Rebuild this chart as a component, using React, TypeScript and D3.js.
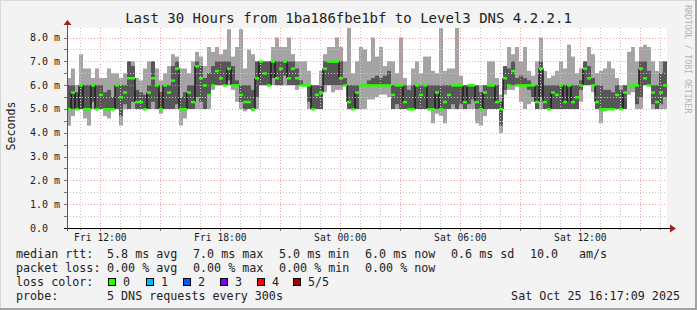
import React from 'react';
import * as d3 from 'd3';

const W = 697;
const H = 310;

const startTime = new Date('2025-10-24T10:20:00Z');
const endTime = new Date('2025-10-25T16:20:00Z');
const stepMinutes = 12;

// sorted ping values per 12-minute column (ms)
const minMs = [
  4.3, 4.7, 5.0, 5.0, 4.6, 4.3, 5.0, 5.0, 5.0, 4.7, 4.6, 5.0, 5.0, 4.3, 5.0, 5.0, 5.0, 5.0, 5.0, 5.0,
  5.0, 5.0, 5.0, 4.8, 5.0, 5.0, 5.0, 5.0, 4.3, 4.6, 5.0, 5.0, 5.0, 5.0, 5.0, 5.0, 5.8, 6.0, 6.0, 6.0,
  6.0, 5.8, 5.3, 5.0, 4.9, 5.0, 4.9, 5.0, 6.0, 6.0,
  6.0, 6.0, 6.0, 6.0, 6.0, 6.0, 6.0, 5.8, 6.0, 6.0, 5.0, 5.0, 5.0, 5.0, 5.7, 6.0, 5.7, 5.8, 5.8, 6.0,
  5.0, 5.0, 5.0, 5.0, 5.0, 5.4, 5.4, 5.5, 5.6, 5.6, 5.5, 5.0, 5.0, 5.0, 5.0, 5.0, 5.0, 5.0, 5.0, 5.0,
  5.0, 4.4, 4.8, 4.7, 4.4, 5.0, 5.0, 5.0, 5.0, 5.0,
  5.0, 5.0, 4.4, 4.3, 4.7, 5.0, 5.0, 5.0, 4.0, 5.6, 5.8, 5.8, 6.0, 5.3, 5.0, 5.2, 5.3, 5.0, 5.0, 5.0,
  5.0, 5.0, 5.0, 5.0, 5.0, 5.0, 5.0, 5.0, 5.3, 6.0, 6.0, 5.7, 5.0, 4.4, 4.9, 5.0, 5.0, 5.0, 5.0, 5.0,
  5.6, 5.7, 5.0, 5.0, 6.0, 6.0, 5.0, 5.0, 5.0, 5.0,
];
const lowMs = [
  5.0, 5.0, 5.0, 5.0, 5.0, 5.0, 5.3, 5.0, 5.0, 5.0, 5.0, 5.0, 5.0, 4.7, 5.2, 5.0, 5.3, 5.0, 5.0, 5.0,
  5.0, 5.3, 5.0, 5.0, 5.0, 5.0, 5.0, 5.2, 5.0, 5.0, 5.0, 5.0, 5.5, 5.3, 5.0, 5.6, 6.0, 6.0, 6.0, 6.0,
  6.2, 6.0, 6.0, 5.3, 5.0, 5.0, 5.0, 5.5, 6.0, 6.0,
  6.0, 6.3, 6.0, 6.0, 6.4, 6.0, 6.0, 6.0, 6.0, 6.0, 5.3, 5.0, 5.0, 5.0, 6.0, 6.0, 6.0, 6.0, 6.0, 6.0,
  5.0, 5.0, 5.0, 6.0, 6.0, 6.0, 6.0, 6.0, 6.0, 6.0, 6.0, 5.0, 5.2, 5.0, 5.0, 5.0, 5.0, 5.0, 5.0, 5.0,
  5.0, 5.0, 5.0, 5.0, 5.0, 5.0, 5.2, 5.0, 5.2, 5.0,
  5.2, 5.4, 5.0, 5.0, 5.0, 5.0, 5.0, 5.0, 4.3, 5.8, 6.0, 6.0, 6.0, 6.0, 6.0, 5.8, 5.5, 5.0, 5.5, 5.0,
  5.0, 5.0, 5.0, 5.0, 5.0, 5.0, 5.0, 5.0, 5.8, 6.0, 6.0, 6.0, 5.0, 5.0, 5.0, 5.0, 5.0, 5.0, 5.0, 5.0,
  6.0, 6.0, 5.2, 5.5, 6.0, 6.0, 5.2, 5.0, 5.2, 5.5,
];
const medianMs = [
  5.0, 5.7, 5.0, 6.0, 5.0, 5.0, 6.0, 5.0, 5.6, 5.0, 5.0, 5.0, 6.0, 5.5, 5.7, 6.3, 6.3, 5.3, 5.3, 5.0,
  5.7, 6.3, 6.0, 5.0, 6.0, 5.7, 6.2, 6.7, 5.0, 5.0, 5.7, 5.3, 6.8, 6.3, 6.0, 5.6, 6.0, 6.6, 6.3, 6.0,
  6.7, 6.0, 6.0, 5.6, 5.3, 5.3, 5.0, 6.3, 7.0, 6.5,
  6.0, 7.0, 6.3, 6.7, 7.0, 6.3, 6.7, 6.3, 6.0, 6.0, 6.0, 5.0, 5.6, 5.7, 6.7, 7.0, 7.0, 7.0, 6.3, 6.0,
  5.3, 5.0, 5.7, 6.0, 6.0, 6.0, 6.0, 6.0, 6.0, 6.0, 6.0, 5.6, 6.0, 6.0, 5.3, 5.0, 5.0, 6.0, 5.6, 6.0,
  5.0, 5.0, 5.7, 5.0, 5.3, 5.6, 6.0, 6.0, 6.0, 5.3,
  6.0, 6.0, 5.3, 5.0, 5.7, 6.0, 6.0, 5.3, 5.0, 6.3, 6.0, 6.6, 6.0, 6.0, 6.0, 6.0, 6.0, 5.3, 6.7, 5.3,
  5.0, 5.7, 5.6, 6.0, 5.3, 6.0, 5.3, 5.5, 6.0, 6.7, 6.3, 6.0, 5.3, 5.0, 5.0, 5.0, 5.0, 5.6, 5.0, 5.7,
  6.0, 6.0, 6.0, 6.7, 6.3, 6.0, 5.7, 5.3, 5.7, 6.0,
];
const highMs = [
  6.0, 6.0, 5.7, 6.0, 6.0, 6.0, 6.0, 6.0, 6.0, 5.7, 5.8, 5.5, 6.0, 6.0, 6.0, 7.0, 6.8, 5.8, 5.7, 5.6,
  6.0, 7.0, 6.0, 5.7, 6.0, 6.0, 6.8, 7.0, 5.5, 5.7, 6.0, 6.0, 7.0, 6.8, 6.3, 6.5, 6.8, 7.0, 7.0, 7.0,
  7.0, 6.8, 6.2, 6.0, 6.0, 6.0, 5.8, 7.0, 7.0, 7.0,
  7.0, 7.0, 7.0, 7.0, 7.0, 7.0, 7.0, 6.7, 6.2, 6.0, 6.0, 6.0, 6.0, 6.0, 7.0, 7.0, 7.0, 7.0, 7.0, 6.3,
  6.0, 6.0, 6.0, 6.0, 6.0, 6.2, 6.3, 6.4, 6.3, 6.4, 6.6, 6.0, 6.0, 6.0, 6.0, 5.8, 6.0, 6.0, 6.0, 6.0,
  6.0, 6.0, 6.0, 6.0, 6.0, 6.0, 6.0, 6.0, 6.0, 6.0,
  6.0, 6.0, 6.0, 5.7, 6.0, 6.0, 6.0, 6.0, 5.3, 6.8, 6.7, 7.0, 6.3, 6.4, 6.3, 6.2, 6.0, 6.0, 7.0, 6.0,
  6.0, 6.0, 6.0, 6.0, 6.0, 6.0, 6.0, 6.0, 6.2, 7.0, 6.8, 6.3, 6.0, 6.0, 5.8, 5.8, 5.7, 6.0, 5.8, 6.0,
  6.0, 6.0, 6.0, 7.0, 7.0, 6.6, 6.0, 6.0, 6.5, 7.0,
];
const maxMs = [
  6.3, 6.7, 6.0, 7.3, 6.7, 6.7, 6.3, 6.7, 6.3, 6.3, 6.7, 6.5, 6.5, 6.3, 6.5, 7.0, 7.0, 6.3, 6.2, 6.7,
  7.0, 7.0, 6.7, 6.2, 6.5, 6.8, 7.3, 7.2, 6.7, 6.7, 6.5, 7.0, 7.4, 7.2, 6.8, 7.6, 7.4, 7.6, 7.3, 7.5,
  8.35, 7.2, 7.6, 8.35, 6.7, 7.5, 7.3, 7.0, 7.0, 7.0,
  7.0, 7.6, 8.0, 7.6, 7.6, 8.0, 7.3, 7.0, 7.0, 7.0, 6.6, 6.0, 6.0, 6.6, 7.3, 7.6, 7.6, 8.0, 7.6, 7.0,
  8.4, 6.5, 7.0, 7.6, 7.5, 7.0, 8.0, 7.2, 7.6, 6.8, 7.0, 7.0, 6.5, 8.0, 6.3, 6.0, 6.7, 7.0, 6.5, 7.2,
  7.2, 6.6, 6.5, 8.4, 6.6, 6.7, 6.7, 8.4, 6.4, 6.0,
  6.0, 6.0, 6.0, 6.0, 6.0, 7.0, 7.0, 6.3, 5.6, 6.8, 7.6, 7.3, 7.6, 7.0, 7.6, 6.6, 6.4, 7.0, 8.0, 6.6,
  6.3, 6.4, 6.6, 7.0, 6.7, 7.7, 7.2, 6.5, 6.7, 7.0, 7.6, 7.3, 6.5, 6.6, 6.7, 7.0, 6.7, 6.3, 6.0, 6.0,
  7.4, 7.6, 7.0, 7.6, 7.7, 7.6, 7.0, 6.6, 7.0, 7.0,
];

const xTickTimes = ['2025-10-24T12:00:00Z', '2025-10-24T18:00:00Z', '2025-10-25T00:00:00Z', '2025-10-25T06:00:00Z', '2025-10-25T12:00:00Z'];
const xTickLabels = ['Fri 12:00', 'Fri 18:00', 'Sat 00:00', 'Sat 06:00', 'Sat 12:00'];
const yTickValues = [0, 1, 2, 3, 4, 5, 6, 7, 8];
const yTickLabels = ['0.0', '1.0 m', '2.0 m', '3.0 m', '4.0 m', '5.0 m', '6.0 m', '7.0 m', '8.0 m'];

const titleText = 'Last 30 Hours from 1ba186fbe1bf to Level3 DNS 4.2.2.1';
const yAxisTitle = 'Seconds';
const watermark = 'RRDTOOL / TOBI OETIKER';
const rttLabel = 'median rtt:';
const rttStats = ['5.8 ms avg', '7.0 ms max', '5.0 ms min', '6.0 ms now', '0.6 ms sd', '10.0', 'am/s'];
const lossLabel = 'packet loss:';
const lossStats = ['0.00 % avg', '0.00 % max', '0.00 % min', '0.00 % now'];
const lossColorLabel = 'loss color:';
const lossLevels = ['0', '1', '2', '3', '4', '5/5'];
const lossColors = ['#26ff00', '#00b8ff', '#0059ff', '#7e00ff', '#ff0000', '#a10000'];
const probeLabel = 'probe:';
const probeText = '5 DNS requests every 300s';
const dateText = 'Sat Oct 25 16:17:09 2025';

const L = 67, R = 667, T = 28, B = 228;
const MONO = '"DejaVu Sans Mono", monospace';

export default function App() {
  const x = d3.scaleUtc().domain([startTime, endTime]).range([L, R]);
  const y = d3.scaleLinear().domain([0, 8.4]).range([B, T]);

  const cols = medianMs.map((m, i) => {
    const t0 = d3.utcMinute.offset(startTime, i * stepMinutes);
    const t1 = d3.utcMinute.offset(startTime, (i + 1) * stepMinutes);
    return { x0: x(t0), x1: x(t1), min: minMs[i], lo: lowMs[i], med: m, hi: highMs[i], max: maxMs[i] };
  });

  const hours = d3.utcHour.range(startTime, endTime);
  const minorX = hours.filter((h) => h.getUTCHours() % 3 !== 0);
  const majorX = hours.filter((h) => h.getUTCHours() % 3 === 0);
  const minorY = d3.range(0.5, 8.4, 1);
  const majorY = d3.range(1, 8.4, 1);

  const rttX = [107, 193, 279, 365, 451, 530, 579];
  const lossBoxX = [108, 146, 183, 220, 257, 293];

  return (
    <svg width={W} height={H} style={{ position: 'absolute', left: 0, top: 0 }} fontFamily={MONO}>
      <rect x={0} y={0} width={W} height={H} fill="#f3f3f3" />
      <line x1={0} y1={0.5} x2={W} y2={0.5} stroke="#d8d8d8" />
      <line x1={0.5} y1={0} x2={0.5} y2={H} stroke="#d8d8d8" />
      <rect x={0} y={H - 2} width={W} height={2} fill="#a3a3a3" />
      <rect x={W - 2} y={0} width={2} height={H} fill="#a3a3a3" />

      <rect x={L} y={T} width={R - L} height={B - T} fill="#ffffff" />

      {/* smoke outer */}
      {cols.map((c, i) => (
        <rect key={'o' + i} x={c.x0} width={c.x1 - c.x0} y={y(c.max)} height={Math.max(0, y(c.min) - y(c.max))} fill="#a4a4a4" />
      ))}
      {/* smoke inner */}
      {cols.map((c, i) => (
        <rect key={'n' + i} x={c.x0} width={c.x1 - c.x0} y={y(c.hi)} height={Math.max(0, y(c.lo) - y(c.hi))} fill="#575757" />
      ))}
      {/* dark steps where the median jumps between columns */}
      {cols.slice(1).map((c, i) => {
        const p = cols[i];
        if (Math.abs(c.med - p.med) < 0.6) return null;
        const top = Math.max(c.med, p.med);
        const bot = Math.min(c.med, p.med);
        return (
          <rect key={'s' + i} x={c.x0 - 0.75} width={1.5} y={y(top)} height={y(bot) - y(top)} fill="#1c1c1c" />
        );
      })}

      {/* grid */}
      {minorY.map((v) => (
        <line key={'my' + v} x1={L} x2={R} y1={Math.round(y(v)) + 0.5} y2={Math.round(y(v)) + 0.5} stroke="#c8c8c8" strokeDasharray="1,2" />
      ))}
      {minorX.map((h) => (
        <line key={'mx' + +h} x1={Math.round(x(h)) + 0.5} x2={Math.round(x(h)) + 0.5} y1={T} y2={B} stroke="#c8c8c8" strokeDasharray="1,2" />
      ))}
      {majorY.map((v) => (
        <line key={'My' + v} x1={L} x2={R} y1={Math.round(y(v)) + 0.5} y2={Math.round(y(v)) + 0.5} stroke="#f08c8c" strokeOpacity={0.8} strokeDasharray="1,2" />
      ))}
      {majorX.map((h) => (
        <line key={'Mx' + +h} x1={Math.round(x(h)) + 0.5} x2={Math.round(x(h)) + 0.5} y1={T} y2={B} stroke="#f08c8c" strokeOpacity={0.8} strokeDasharray="1,2" />
      ))}

      {/* median */}
      {cols.map((c, i) => (
        <rect key={'m' + i} x={c.x0} width={c.x1 - c.x0} y={y(c.med) - 1} height={2.5} fill={lossColors[0]} />
      ))}

      {/* axis ticks */}
      {hours.map((h) => (
        <line key={'tx' + +h} x1={Math.round(x(h)) + 0.5} x2={Math.round(x(h)) + 0.5} y1={B} y2={B + (h.getUTCHours() % 3 === 0 ? 3 : 2)} stroke="#777" />
      ))}
      {[...minorY, ...majorY].map((v) => (
        <line key={'ty' + v} x1={L - 3} x2={L} y1={Math.round(y(v)) + 0.5} y2={Math.round(y(v)) + 0.5} stroke="#777" />
      ))}

      {/* axes */}
      <line x1={L - 3} x2={R + 3} y1={B + 0.5} y2={B + 0.5} stroke="#000" />
      <line x1={L + 0.5} x2={L + 0.5} y1={B + 3} y2={T - 4} stroke="#555" />
      <path d={`M${R + 3},${B - 3.5} L${R + 9},${B + 0.5} L${R + 3},${B + 4.5} Z`} fill="#a02020" />
      <path d={`M${L - 3.5},${T - 3} L${L + 0.5},${T - 8} L${L + 4.5},${T - 3} Z`} fill="#a02020" />

      {/* tick labels */}
      {yTickValues.map((v, i) => (
        <text key={'yl' + v} x={30} y={y(v) + 3.5} fontSize={10} fill="#222">{yTickLabels[i]}</text>
      ))}
      {xTickTimes.map((t, i) => (
        <text key={'xl' + t} x={x(new Date(t))} y={241} fontSize={9.7} textAnchor="middle" fill="#222">{xTickLabels[i]}</text>
      ))}

      <text x={348.5} y={23} fontSize={14} textAnchor="middle" fill="#222">{titleText}</text>
      <text transform={`translate(15,126) rotate(-90)`} fontSize={11.6} textAnchor="middle" fill="#222">{yAxisTitle}</text>
      <text transform={`translate(685,5) rotate(90)`} fontSize={8.2} fill="#b4b4b4">{watermark}</text>

      {/* legend */}
      <g fontSize={11.7} fill="#222">
        <text x={16} y={258}>{rttLabel}</text>
        {rttStats.map((s, i) => (
          <text key={'r' + i} x={rttX[i]} y={258}>{s}</text>
        ))}
        <text x={16} y={272}>{lossLabel}</text>
        {lossStats.map((s, i) => (
          <text key={'l' + i} x={rttX[i]} y={272}>{s}</text>
        ))}
        <text x={16} y={286}>{lossColorLabel}</text>
        {lossLevels.map((s, i) => (
          <g key={'c' + i}>
            <rect x={lossBoxX[i] + 0.5} y={278.5} width={7} height={7} fill={lossColors[i]} stroke="#000" />
            <text x={lossBoxX[i] + 15} y={286}>{s}</text>
          </g>
        ))}
        <text x={16} y={300}>{probeLabel}</text>
        <text x={107} y={300}>{probeText}</text>
        <text x={680} y={300} textAnchor="end">{dateText}</text>
      </g>
    </svg>
  );
}
